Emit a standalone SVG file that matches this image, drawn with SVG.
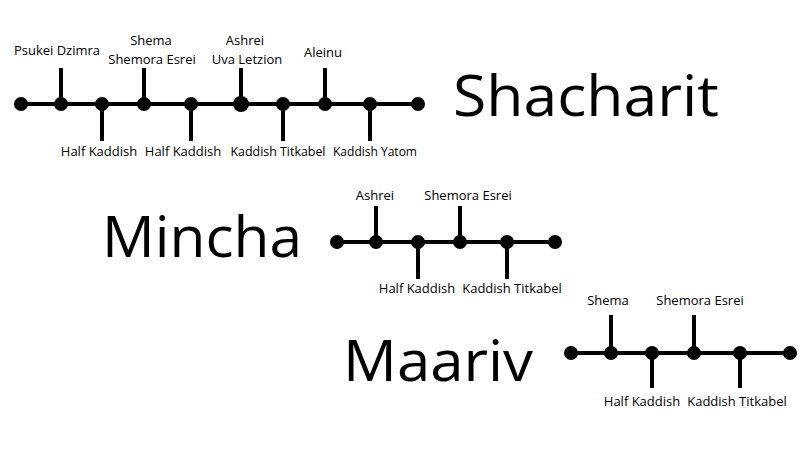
<svg xmlns="http://www.w3.org/2000/svg" width="800" height="450" viewBox="0 0 800 450">
<style>
.ln{stroke:#000;stroke-width:4;fill:none}
.dot{fill:#000}
.lb{font-family:"Open Sans","Liberation Sans",sans-serif;font-size:13px;fill:#000;text-anchor:middle}
.big{font-family:"Open Sans","Liberation Sans",sans-serif;font-size:57px;fill:#000}
</style>
<rect width="800" height="450" fill="#fff"/>
<g id="connectors">
<line class="ln" x1="21" y1="104" x2="418" y2="104"/>
<line class="ln" x1="61" y1="68" x2="61" y2="104"/>
<line class="ln" x1="102" y1="104" x2="102" y2="141"/>
<line class="ln" x1="144" y1="68" x2="144" y2="104"/>
<line class="ln" x1="191" y1="104" x2="191" y2="141"/>
<line class="ln" x1="241" y1="68" x2="241" y2="104"/>
<line class="ln" x1="283" y1="104" x2="283" y2="141"/>
<line class="ln" x1="325" y1="68" x2="325" y2="104"/>
<line class="ln" x1="370" y1="104" x2="370" y2="141"/>
<line class="ln" x1="337" y1="242" x2="555" y2="242"/>
<line class="ln" x1="376" y1="206" x2="376" y2="242"/>
<line class="ln" x1="418" y1="242" x2="418" y2="279"/>
<line class="ln" x1="460" y1="206" x2="460" y2="242"/>
<line class="ln" x1="507" y1="242" x2="507" y2="279"/>
<line class="ln" x1="571" y1="353" x2="790" y2="353"/>
<line class="ln" x1="611" y1="315" x2="611" y2="353"/>
<line class="ln" x1="652" y1="353" x2="652" y2="388"/>
<line class="ln" x1="694" y1="315" x2="694" y2="353"/>
<line class="ln" x1="740" y1="353" x2="740" y2="388"/>
</g>
<g id="shacharit">
<text class="big" x="453" y="116" textLength="266" lengthAdjust="spacingAndGlyphs">Shacharit</text>
<circle class="dot" cx="21" cy="104" r="7"/>
<circle class="dot" cx="61" cy="104" r="7"/>
<circle class="dot" cx="102" cy="104" r="7"/>
<circle class="dot" cx="144" cy="104" r="7"/>
<circle class="dot" cx="191" cy="104" r="7"/>
<circle class="dot" cx="241" cy="104" r="8"/>
<circle class="dot" cx="283" cy="104" r="7"/>
<circle class="dot" cx="325" cy="104" r="7"/>
<circle class="dot" cx="370" cy="104" r="7"/>
<circle class="dot" cx="418" cy="104" r="7"/>
<text class="lb" x="57" y="55">Psukei Dzimra</text>
<text class="lb" x="151" y="45">Shema</text>
<text class="lb" x="152" y="64">Shemora Esrei</text>
<text class="lb" x="245" y="45">Ashrei</text>
<text class="lb" x="247" y="64">Uva Letzion</text>
<text class="lb" x="323" y="57">Aleinu</text>
<text class="lb" x="99" y="156">Half Kaddish</text>
<text class="lb" x="183" y="156">Half Kaddish</text>
<text class="lb" x="278" y="156" textLength="95" lengthAdjust="spacingAndGlyphs">Kaddish Titkabel</text>
<text class="lb" x="375" y="156" textLength="84" lengthAdjust="spacingAndGlyphs">Kaddish Yatom</text>
</g>
<g id="mincha">
<text class="big" x="102" y="257" textLength="200" lengthAdjust="spacingAndGlyphs">Mincha</text>
<circle class="dot" cx="337" cy="242" r="7"/>
<circle class="dot" cx="376" cy="242" r="7"/>
<circle class="dot" cx="418" cy="242" r="7"/>
<circle class="dot" cx="460" cy="242" r="7"/>
<circle class="dot" cx="507" cy="242" r="7"/>
<circle class="dot" cx="555" cy="242" r="7"/>
<text class="lb" x="375" y="200">Ashrei</text>
<text class="lb" x="468" y="200">Shemora Esrei</text>
<text class="lb" x="417" y="293">Half Kaddish</text>
<text class="lb" x="512" y="293">Kaddish Titkabel</text>
</g>
<g id="maariv">
<text class="big" x="343" y="381" textLength="190" lengthAdjust="spacingAndGlyphs">Maariv</text>
<circle class="dot" cx="571" cy="353" r="7"/>
<circle class="dot" cx="611" cy="353" r="7"/>
<circle class="dot" cx="652" cy="353" r="7"/>
<circle class="dot" cx="694" cy="353" r="7"/>
<circle class="dot" cx="740" cy="353" r="7"/>
<circle class="dot" cx="790" cy="353" r="7"/>
<text class="lb" x="608" y="305">Shema</text>
<text class="lb" x="700" y="305">Shemora Esrei</text>
<text class="lb" x="642" y="406">Half Kaddish</text>
<text class="lb" x="737" y="406">Kaddish Titkabel</text>
</g>
</svg>
